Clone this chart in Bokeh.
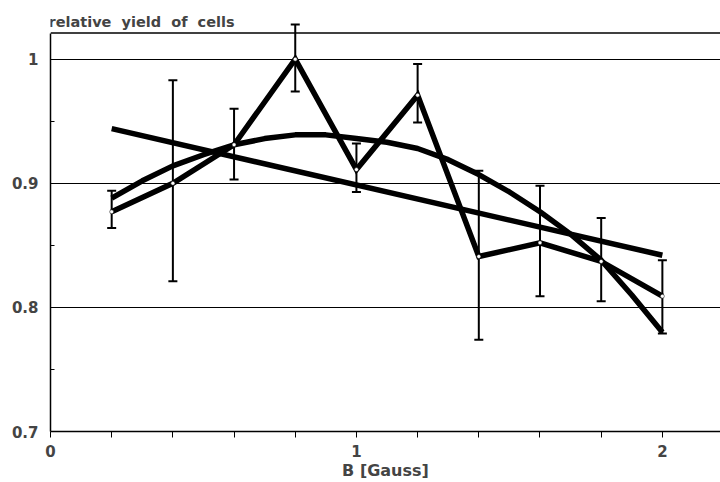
from bokeh.plotting import figure
from bokeh.models import Range1d, FixedTicker, Whisker, ColumnDataSource, TeeHead, Span, Label
from bokeh.embed import file_html
from bokeh.resources import INLINE

# ---- data ----
field = [0.2, 0.4, 0.6, 0.8, 1.0, 1.2, 1.4, 1.6, 1.8, 2.0]
yield_rel = [0.877, 0.900, 0.931, 1.000, 0.911, 0.971, 0.841, 0.852, 0.837, 0.809]
err_upper = [0.894, 0.983, 0.960, 1.028, 0.932, 0.996, 0.910, 0.898, 0.872, 0.838]
err_lower = [0.864, 0.821, 0.903, 0.974, 0.893, 0.949, 0.774, 0.809, 0.805, 0.779]

quad_x = [0.2, 0.3, 0.4, 0.5, 0.6, 0.7, 0.8, 0.9, 1.0, 1.1, 1.2, 1.3, 1.4, 1.5, 1.6, 1.7, 1.8, 1.9, 2.0]
quad_fit = [0.888, 0.902, 0.914, 0.923, 0.931, 0.936, 0.939, 0.939, 0.936, 0.933, 0.928, 0.919,
            0.907, 0.893, 0.877, 0.859, 0.838, 0.810, 0.780]

lin_x = [0.2, 2.0]
lin_fit = [0.944, 0.842]

y_ticks = [0.7, 0.8, 0.9, 1.0]
y_minor = [0.75, 0.85, 0.95]
x_ticks = [0, 1, 2]
x_minor = [0.2, 0.4, 0.6, 0.8, 1.2, 1.4, 1.6, 1.8]
y_top = 1.021

FONT = "DejaVu Sans"

p = figure(width=720, height=482, x_range=Range1d(0, 2.19), y_range=Range1d(0.7, 1.04),
           output_backend="svg", toolbar_location=None,
           min_border_left=50, min_border_right=0, min_border_top=9, min_border_bottom=51)

p.outline_line_color = None

p.xgrid.visible = False
p.ygrid.ticker = FixedTicker(ticks=y_ticks)
p.ygrid.grid_line_color = "black"
p.ygrid.grid_line_width = 1
p.ygrid.grid_line_alpha = 1

ya = p.yaxis[0]
ya.ticker = FixedTicker(ticks=y_ticks, minor_ticks=y_minor)
ya.bounds = (0.7, y_top)
ya.major_tick_in = 0
ya.major_tick_out = 0
ya.minor_tick_in = 4
ya.minor_tick_out = 0
ya.axis_line_color = "black"
ya.axis_line_width = 1.5
ya.major_label_text_font = FONT
ya.major_label_text_font_size = "15px"
ya.major_label_text_font_style = "bold"
ya.major_label_standoff = 12

xa = p.xaxis[0]
xa.ticker = FixedTicker(ticks=x_ticks, minor_ticks=x_minor)
xa.major_tick_in = 0
xa.major_tick_out = 6
xa.minor_tick_in = 0
xa.minor_tick_out = 6
xa.axis_line_color = "black"
xa.axis_line_width = 1.5
xa.major_label_text_font = FONT
xa.major_label_text_font_size = "15px"
xa.major_label_text_font_style = "bold"
xa.major_label_standoff = 7
xa.axis_label = "B [Gauss]"
xa.axis_label_text_font = FONT
xa.axis_label_text_font_size = "16px"
xa.axis_label_text_font_style = "bold"
xa.axis_label_standoff = 1

# top border of the frame
p.add_layout(Span(location=y_top, dimension="width", line_color="black", line_width=1.5))

# title
p.add_layout(Label(x=0, y=y_top, x_offset=-2, y_offset=11,
                   text="relative\u00a0 yield\u00a0 of\u00a0 cells",
                   text_font=FONT, text_font_size="14.5px", text_font_style="bold",
                   text_baseline="alphabetic", text_align="left"))

# fits
p.line(lin_x, lin_fit, line_color="black", line_width=5.5)
p.line(quad_x, quad_fit, line_color="black", line_width=5.5)

# data
src = ColumnDataSource(dict(x=field, y=yield_rel, up=err_upper, lo=err_lower))
p.line("x", "y", source=src, line_color="black", line_width=5.5, line_join="miter")
p.add_layout(Whisker(source=src, base="x", upper="up", lower="lo", dimension="height",
                     line_color="black", line_width=2,
                     upper_head=TeeHead(size=9, line_width=2, line_color="black"),
                     lower_head=TeeHead(size=9, line_width=2, line_color="black")))
p.scatter("x", "y", source=src, size=4, fill_color="white", line_color="black", line_width=0.5)

open("out.html", "w").write(file_html(p, INLINE))
